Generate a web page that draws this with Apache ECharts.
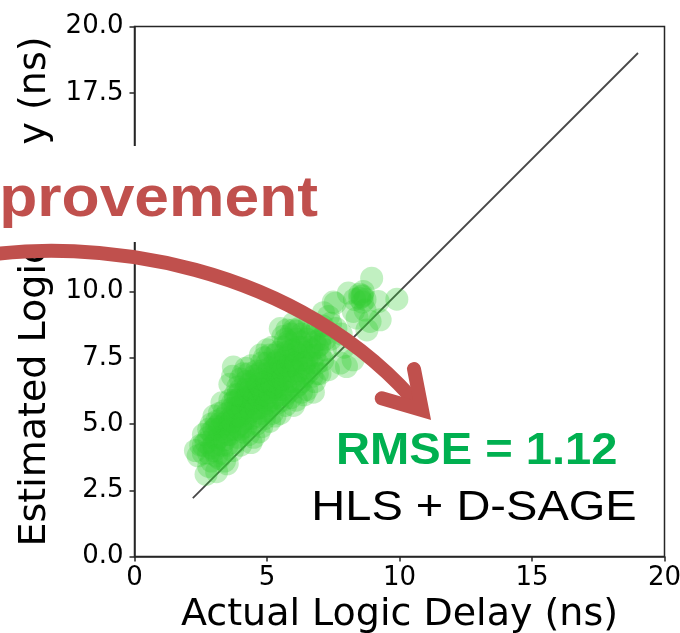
<!DOCTYPE html>
<html>
<head>
<meta charset="utf-8">
<script src="https://cdn.jsdelivr.net/npm/echarts@6/dist/echarts.min.js"></script>
<style>
  html, body { margin: 0; padding: 0; background: #fff; }
  #chart { width: 680px; height: 633px; }
</style>
</head>
<body>
<div id="chart"></div>
<script>
// Actual logic delay (ns) and estimated logic delay (ns)
const actualDelay = [
  2.3,2.5,2.6,2.7,2.8,2.9,3.0,2.6,2.9,3.1,2.4,2.8,
  3.1,3.2,3.3,3.4,3.2,3.5,3.3,3.4,3.5,3.1,3.2,3.4,3.0,3.5,
  3.6,3.7,3.8,3.6,3.9,3.7,3.8,3.9,4.0,3.6,3.73,3.8,3.9,4.0,3.7,4.0,
  4.1,4.2,4.3,4.1,4.4,4.2,4.3,4.4,4.5,4.1,4.2,4.3,4.5,4.4,4.5,4.0,4.2,4.4,
  4.6,4.7,4.8,4.6,4.9,4.7,4.8,4.9,5.0,4.6,4.7,4.8,4.9,5.0,4.6,5.0,4.7,4.8,
  5.1,5.2,5.3,5.1,5.4,5.2,5.3,5.4,5.5,5.1,5.2,5.3,5.5,5.4,5.5,5.2,5.0,
  5.6,5.7,5.8,5.6,5.9,5.7,5.8,5.9,6.0,5.6,5.75,5.5,5.9,6.0,5.7,5.8,
  6.1,6.2,6.3,6.1,6.4,6.0,6.2,6.3,6.4,6.5,6.1,6.3,6.5,
  6.6,6.7,6.8,6.6,6.9,7.0,6.7,6.9,
  7.1,7.32,7.32,7.5,7.6,7.76,7.8,7.2,7.57,7.4,7.9,
  8.07,8.26,8.58,8.6,8.5,8.77,8.89,8.95,9.2,9.27,9.9,8.4,8.7,8.3,
  2.7,2.9,3.0,3.1,3.2,3.3,3.4,3.5,2.8,3.0,3.3,3.5,
  3.6,3.7,3.8,3.9,4.0,4.1,4.2,4.3,4.4,4.5,3.8,4.0,4.3,4.1,4.4,3.9,4.2,
  4.6,4.7,4.8,4.9,5.0,5.1,5.2,5.3,5.4,5.5,4.75,5.0,5.3,4.9,5.2,5.4,4.6,
  5.6,5.7,5.8,5.9,6.0,6.1,6.2,6.3,6.4,6.5,5.6,5.9,6.2,6.0,6.3,5.7,6.1,6.4,6.5,
  6.6,6.7,6.8,6.9,7.0,7.1,7.2,6.75,7.0,7.13,7.4,6.6,
  8.0,8.25,8.63,8.5,8.7,8.6,
  2.6,2.8,3.0,3.2,3.4,2.9,3.1,3.3,
  3.6,3.7,3.8,3.9,4.0,4.1,4.2,4.3,4.4,4.5,3.7,4.0,4.2,4.4,3.9,
  4.6,4.7,4.8,4.9,5.0,5.1,5.2,5.3,5.4,5.5,4.8,5.1,5.3,4.7,5.0,5.4,
  5.6,5.7,5.8,5.9,6.0,6.1,6.2,6.3,5.6,5.8,6.0,6.4,6.1,5.7,
  6.6,6.8,7.0,6.7,7.2,6.9
];
const estimatedDelay = [
  4.0,4.2,3.9,3.1,4.5,3.6,4.8,4.6,4.1,3.2,3.8,3.4,
  4.4,5.0,3.9,4.7,5.4,4.2,5.8,3.6,5.1,4.9,3.7,5.5,5.3,3.5,
  4.6,5.3,6.1,5.9,4.5,4.0,5.6,6.4,5.0,6.5,7.15,4.3,5.9,4.2,6.8,6.7,
  5.4,6.0,4.6,6.9,5.2,4.9,6.5,6.1,4.5,4.7,7.1,5.7,6.8,4.3,5.5,6.0,5.6,7.2,
  5.0,6.2,5.4,7.0,6.6,4.7,7.3,5.2,6.0,5.8,6.9,4.9,7.5,5.5,6.4,6.9,5.6,6.1,
  5.1,6.3,7.1,7.6,5.8,5.4,6.7,7.4,6.1,6.6,7.9,5.3,7.0,6.4,5.4,7.0,7.3,
  6.3,7.5,6.8,7.9,6.0,5.7,8.1,7.2,6.6,5.9,8.55,8.6,7.8,5.7,7.0,6.2,
  6.9,7.6,6.2,8.2,7.1,8.55,6.5,7.9,6.1,6.3,5.9,8.4,7.4,
  7.0,7.8,6.6,8.3,7.3,8.0,6.8,8.6,
  7.4,7.05,9.06,9.6,8.6,7.3,8.4,8.2,9.56,8.8,7.9,
  9.94,9.25,9.81,9.85,9.75,8.55,8.87,10.5,9.62,8.93,9.71,9.0,9.3,9.7,
  4.3,4.7,4.0,5.1,4.5,4.2,5.0,4.6,3.9,4.5,4.9,5.4,
  5.0,5.6,4.8,5.3,5.7,5.1,6.3,5.4,5.8,6.2,5.9,6.3,6.9,5.9,6.6,4.9,5.2,
  6.1,5.3,6.7,5.9,6.4,5.7,6.8,6.0,7.0,6.6,7.6,7.8,7.6,6.3,5.9,6.3,6.7,
  7.2,6.5,7.6,6.6,7.3,7.7,7.0,7.4,6.8,6.9,8.3,8.4,8.6,8.8,6.6,6.1,6.4,7.7,8.2,
  7.6,7.3,8.1,6.9,7.6,8.7,7.8,6.2,6.9,9.2,8.2,8.8,
  7.17,7.42,10.0,9.9,9.7,9.6,
  4.2,4.8,4.2,4.8,4.4,5.0,3.8,5.2,
  4.8,5.1,5.3,5.6,5.3,5.6,5.9,6.2,5.5,5.9,5.8,4.8,6.6,6.3,6.1,
  5.6,6.0,6.3,6.1,6.6,6.2,6.5,6.4,6.8,7.3,7.0,7.1,7.3,6.5,5.8,7.7,
  7.0,7.7,7.2,7.4,7.8,7.3,7.9,8.1,6.7,8.0,7.0,7.3,8.5,8.2,
  7.9,7.6,8.2,8.5,8.4,7.9
];
// Ideal (y = x) reference line ends
const idealLine = [2.2, 19.0];
const xTicks = [0, 5, 10, 15, 20];
const yTicks = ['0.0','2.5','5.0','7.5','10.0','12.5','15.0','17.5','20.0'];

const points = actualDelay.map((a, i) => [a, estimatedDelay[i]]);
const idealPts = idealLine.map(v => [v, v]);

const axisFont = 'DejaVu Sans';
const annFont = '"Liberation Sans", Arial, sans-serif';
const red = '#C0504D';

const chart = echarts.init(document.getElementById('chart'), null, { renderer: 'canvas' });
chart.setOption({
  animation: false,
  backgroundColor: '#fff',
  grid: {
    left: 134.5, top: 26.5, width: 530, height: 530,
    outerBoundsMode: 'none', containLabel: false,
    show: true, borderColor: '#262626', borderWidth: 1.5, backgroundColor: 'transparent'
  },
  xAxis: {
    type: 'value', min: xTicks[0], max: xTicks[xTicks.length - 1], interval: 5,
    name: 'Actual Logic Delay (ns)', nameLocation: 'middle', nameGap: 36,
    nameTextStyle: { fontFamily: axisFont, fontSize: 38, color: '#000' },
    axisLine: { show: true, onZero: false, lineStyle: { color: '#262626', width: 1.5 } },
    axisTick: { show: true, length: 5, lineStyle: { color: '#262626', width: 1.5 } },
    axisLabel: { fontFamily: axisFont, fontSize: 26, color: '#000', margin: 9, showMaxLabel: true, showMinLabel: true },
    splitLine: { show: false }
  },
  yAxis: {
    type: 'value', min: 0, max: 20, interval: 2.5,
    name: 'Estimated Logic Delay (ns)', nameLocation: 'middle', nameGap: 80, nameRotate: 90,
    nameTextStyle: { fontFamily: axisFont, fontSize: 38, color: '#000' },
    axisLine: { show: true, onZero: false, lineStyle: { color: '#262626', width: 1.5 } },
    axisTick: { show: true, length: 5, lineStyle: { color: '#262626', width: 1.5 } },
    axisLabel: {
      fontFamily: axisFont, fontSize: 26, color: '#000', margin: 11,
      formatter: v => yTicks[Math.round(v / 2.5)]
    },
    splitLine: { show: false }
  },
  series: [
    {
      type: 'line', data: idealPts, symbol: 'none', silent: true, z: 1,
      lineStyle: { color: '#333', width: 1.8, opacity: 0.9 }
    },
    {
      type: 'scatter', data: points, symbolSize: 23, z: 3,
      itemStyle: { color: '#32CD32', opacity: 0.3 }
    }
  ],
  graphic: [
    { type: 'rect', z: 100, shape: { x: 0, y: 146, width: 325, height: 96 }, style: { fill: '#fff' } },
    {
      type: 'text', z: 101, x: 318, y: 200, scaleX: 1.075,
      style: { text: 'provement', font: 'bold 58px ' + annFont, fill: red,
               align: 'right', verticalAlign: 'middle', textAlign: 'right', textVerticalAlign: 'middle' }
    },
    {
      type: 'bezierCurve', z: 102,
      shape: { x1: -30, y1: 258, cpx1: 90, cpy1: 235, cpx2: 300, cpy2: 262, x2: 422, y2: 410 },
      style: { stroke: red, lineWidth: 14, fill: null }
    },
    {
      type: 'polyline', z: 102,
      shape: { points: [[414, 369], [422, 410], [381.7, 398.3]] },
      style: { stroke: red, lineWidth: 14, fill: null, lineJoin: 'miter', miterLimit: 10, lineCap: 'round' }
    },
    {
      type: 'text', z: 101, x: 476.7, y: 451.4, scaleX: 1.07,
      style: { text: 'RMSE = 1.12', font: 'bold 44px ' + annFont, fill: '#00B050',
               align: 'center', verticalAlign: 'middle', textAlign: 'center', textVerticalAlign: 'middle' }
    },
    {
      type: 'text', z: 101, x: 474, y: 508.7, scaleX: 1.12,
      style: { text: 'HLS + D-SAGE', font: '42px ' + annFont, fill: '#000',
               align: 'center', verticalAlign: 'middle', textAlign: 'center', textVerticalAlign: 'middle' }
    }
  ]
});
</script>
</body>
</html>
